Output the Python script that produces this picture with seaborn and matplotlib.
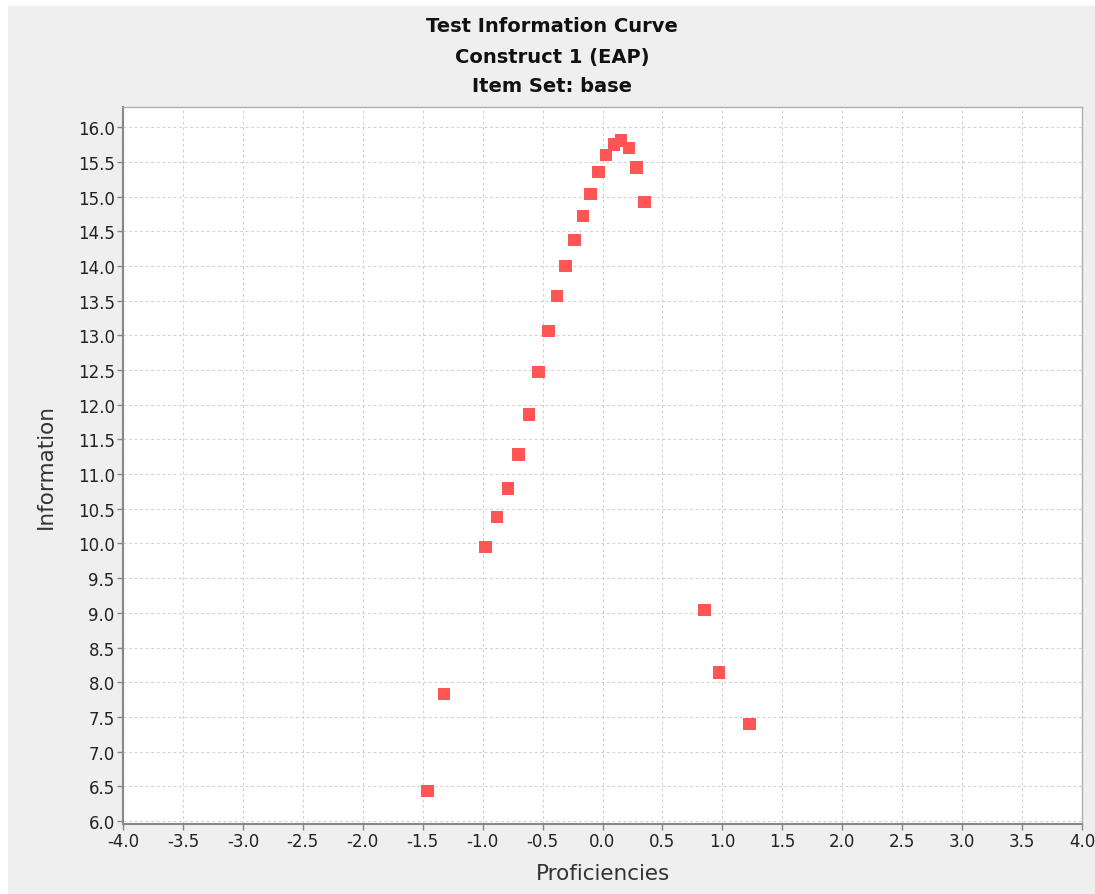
import matplotlib
matplotlib.use("Agg")
import matplotlib.pyplot as plt
from matplotlib.patches import Rectangle
import pandas as pd
import seaborn as sb

# proficiency (theta) and test information
proficiency = [-1.46, -1.32, -0.975, -0.88, -0.79, -0.70, -0.615, -0.535, -0.45,
               -0.38, -0.31, -0.235, -0.165, -0.10, -0.035, 0.03, 0.095, 0.155,
               0.22, 0.285, 0.35, 0.85, 0.97, 1.225]
information = [6.43, 7.83, 9.95, 10.38, 10.79, 11.28, 11.86, 12.47, 13.06,
               13.57, 14.00, 14.37, 14.72, 15.04, 15.35, 15.60, 15.75, 15.81,
               15.70, 15.42, 14.92, 9.04, 8.14, 7.40]

title_lines = ["Test Information Curve", "Construct 1 (EAP)", "Item Set: base"]
x_ticks = [-4.0 + 0.5 * i for i in range(17)]
y_ticks = [6.0 + 0.5 * i for i in range(21)]

df = pd.DataFrame({"Proficiencies": proficiency, "Information": information})

sb.set_style("white")
plt.rcParams["font.family"] = ["DejaVu Sans"]

W, H = 1095, 895
fig = plt.figure(figsize=(W / 100, H / 100), dpi=100, facecolor="white")
fig.patches.append(Rectangle((8 / W, 0), 1 - 8 / W, 1 - 7 / H, transform=fig.transFigure,
                             facecolor="#efefef", edgecolor="none", zorder=-10))

ax = fig.add_axes([123 / W, 1 - 825 / H, (1082 - 123) / W, (825 - 108) / H])
ax.set_facecolor("white")

sb.scatterplot(data=df, x="Proficiencies", y="Information", marker="s", s=80,
               color="#ff5555", edgecolor="none", linewidth=0, ax=ax, zorder=3)

ax.set_xlim(-4.0, 4.0)
ax.set_ylim(5.957, 16.29)
ax.set_xticks(x_ticks)
ax.set_xticklabels(["{:.1f}".format(t) for t in x_ticks])
ax.set_yticks(y_ticks)
ax.set_yticklabels(["{:.1f}".format(t) for t in y_ticks])

ax.grid(True, color="#d2d2d2", linestyle=(0, (2.5, 2.5)), linewidth=0.8)
ax.set_axisbelow(True)

for side in ["top", "right"]:
    ax.spines[side].set_color("#b0b0b0")
    ax.spines[side].set_linewidth(1.0)
for side in ["left", "bottom"]:
    ax.spines[side].set_color("#888888")
    ax.spines[side].set_linewidth(1.5)

ax.tick_params(axis="both", direction="out", length=4, width=1, color="#888888",
               labelsize=12, labelcolor="#222222", pad=2, left=True, bottom=True)

ax.set_xlabel("Proficiencies", fontsize=15.5, color="#333333", labelpad=9)
ax.set_ylabel("Information", fontsize=15.5, color="#333333", labelpad=16)

for i, line in enumerate(title_lines):
    fig.text(552 / W, 1 - (27 + 30 * i) / H, line, ha="center", va="center",
             fontsize=14, fontweight="bold", color="#111111")

plt.savefig("out.png", dpi=100, facecolor=fig.get_facecolor())
